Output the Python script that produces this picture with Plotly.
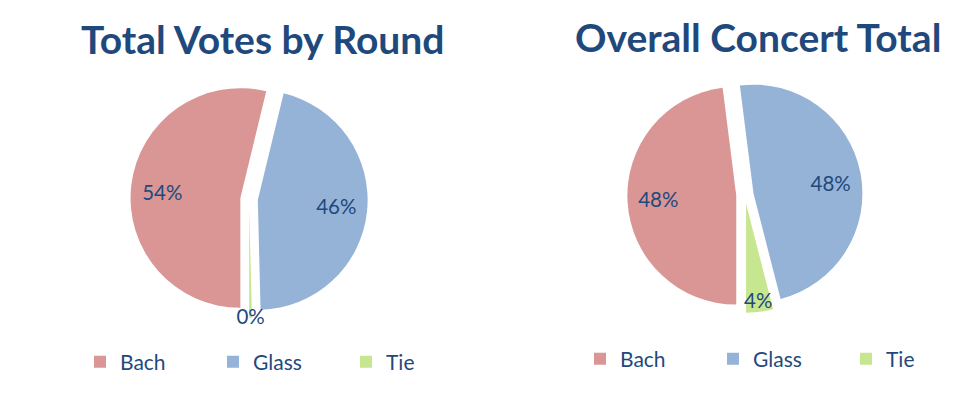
import plotly.graph_objects as go

categories = ["Bach", "Glass", "Tie"]
round_values = [54, 46, 0.4]
concert_values = [48, 48, 4]
titles = ["Total Votes by Round", "Overall Concert Total"]

colors = ["#D99694", "#95B3D7", "#C6E690"]
navy = "#1F497D"
FONT = "Lato"

# second pie gets distinct label keys (trailing space) so it can own its legend
labels2 = [c + " " for c in categories]

NB = "\u00a0"
pct = "%{percent:.0%}"
# padding pushes the labels outward toward the rim, as in the reference
tmpl1 = [pct + NB * 9, NB * 9 + pct, pct]
tmpl2 = [pct + NB * 9, NB * 9 + pct, pct]

fig = go.Figure()
fig.add_trace(go.Pie(
    labels=categories, values=round_values, sort=False, direction="clockwise",
    rotation=180, pull=[0.08, 0.08, 0.08],
    marker=dict(colors=colors, line=dict(width=0)),
    texttemplate=tmpl1, textposition="inside",
    insidetextorientation="horizontal",
    textfont=dict(size=20.5, color=navy, family=FONT),
    domain=dict(x=[0.125, 0.367], y=[0.214, 0.816]),
    legend="legend", hoverinfo="label+percent",
))
fig.add_trace(go.Pie(
    labels=labels2, values=concert_values, sort=False, direction="clockwise",
    rotation=180, pull=[0.08, 0.08, 0.08],
    marker=dict(colors=colors, line=dict(width=0)),
    texttemplate=tmpl2, textposition="inside",
    insidetextorientation="horizontal",
    textfont=dict(size=20.5, color=navy, family=FONT),
    domain=dict(x=[0.632, 0.872], y=[0.225, 0.825]),
    legend="legend2", hoverinfo="label+percent",
))

fig.add_annotation(text="<b>%s</b>" % titles[0], x=254 / 980, y=1 - 31 / 394, xref="paper", yref="paper",
                   xanchor="center", yanchor="middle",
                   showarrow=False, font=dict(size=39, color=navy, family=FONT))
fig.add_annotation(text="<b>%s</b>" % titles[1], x=750 / 980, y=1 - 29 / 394, xref="paper", yref="paper",
                   xanchor="center", yanchor="middle",
                   showarrow=False, font=dict(size=39, color=navy, family=FONT))

legend_common = dict(orientation="h", yanchor="middle", xanchor="left",
                     font=dict(size=21, color=navy, family=FONT),
                     entrywidth=88, entrywidthmode="pixels", bgcolor="rgba(0,0,0,0)")
fig.update_layout(
    width=980, height=394,
    margin=dict(l=0, r=0, t=0, b=0),
    paper_bgcolor="white", plot_bgcolor="white",
    uniformtext=dict(minsize=20.5, mode="show"),
    legend=dict(x=72 / 980, y=1 - 354 / 394, **legend_common),
    legend2=dict(x=572 / 980, y=1 - 351 / 394, **legend_common),
)
fig.write_html("out.html")
